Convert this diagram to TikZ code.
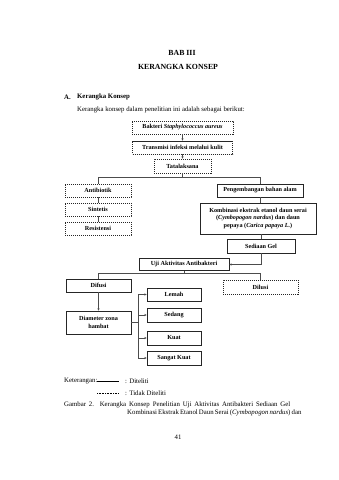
\documentclass[tikz,border=0pt]{standalone}
\usepackage{fontspec}
\setmainfont{Liberation Serif}
\usetikzlibrary{arrows.meta,calc}
\begin{document}
\begin{tikzpicture}[x=1pt,y=-1pt,
 box/.style={draw=black!85, line width=0.55pt, inner sep=0pt, align=center, font=\bfseries\fontsize{6.2}{7.6}\selectfont},
 solidbox/.style={box},
 dashbox/.style={box, dash pattern=on 1.2pt off 0.8pt},
 conn/.style={draw=black!70, line width=0.45pt},
 arr/.style={conn, -{Stealth[length=2.4pt,width=2.2pt]}},
 txt/.style={inner sep=0pt, font=\fontsize{6.8}{8}\selectfont},
 head/.style={inner sep=0pt, font=\bfseries\fontsize{7.8}{9}\selectfont}]
\useasboundingbox[fill=white] (0,0) rectangle (339,480);

\node[head] (t1) at (182,53) {BAB III};
\node[head] (t2) at (178,67) {KERANGKA KONSEP};
\node[txt, anchor=west, font=\bfseries\fontsize{6.8}{8}\selectfont] (sa) at (64,97) {A.};
\node[txt, anchor=west, font=\bfseries\fontsize{6.8}{8}\selectfont] (sb) at (77,97) {Kerangka Konsep};
\node[txt, anchor=west] (intro) at (77,110) {Kerangka konsep dalam penelitian ini adalah sebagai berikut:};

% top chain
\node[dashbox, minimum width=101, minimum height=13] (b1) at (182.5,127.5) {Bakteri \textit{Staphylococcus aureus}};
\node[dashbox, minimum width=100, minimum height=13] (b2) at (182.5,147.5) {Transmisi infeksi melalui kulit};
\node[dashbox, minimum width=57, minimum height=14] (b3) at (182.5,166) {Tatalaksana};
\draw[arr] (b1) -- (b2);
\draw[arr] (b2) -- (b3);
\coordinate (s1) at (182.5,177);
\draw[conn] (b3.south) -- (s1);

% left column
\node[dashbox, minimum width=66, minimum height=13] (anti) at (98,190.5) {Antibiotik};
\node[dashbox, minimum width=66, minimum height=13] (sint) at (98,209.5) {Sintetis};
\node[dashbox, minimum width=66, minimum height=13] (resi) at (98,228.5) {Resistensi};
\draw[conn] (anti.north) |- (s1);
\draw[conn] (anti) -- (sint);
\draw[conn] (sint) -- (resi);

% right column
\node[solidbox, minimum width=86, minimum height=13] (peng) at (260,190.5) {Pengembangan bahan alam};
\node[solidbox, minimum width=116, minimum height=31] (komb) at (258,218.5) {Kombinasi ekstrak etanol daun serai\\(\textit{Cymbopogon nardus}) dan daun\\pepaya (\textit{Carica papaya L.})};
\node[solidbox, minimum width=68, minimum height=14] (sedi) at (261,246) {Sediaan Gel};
\draw[conn] (peng.north) |- (s1);
\draw[conn] (peng.south) -- (peng.south |- komb.north);
\draw[conn] (sedi.north |- komb.south) -- (sedi.north);

% uji
\node[solidbox, minimum width=90, minimum height=12] (uji) at (184,264.5) {Uji Aktivitas Antibakteri};
\draw[arr] (sedi.south) |- (uji.east);
\coordinate (s2) at (184,273);
\draw[conn] (uji.south) -- (s2);

\node[solidbox, minimum width=65, minimum height=13] (difu) at (98.5,285.5) {Difusi};
\node[dashbox, minimum width=75, minimum height=14] (dilu) at (260.5,287) {Dilusi};
\draw[conn] (difu.north) |- (s2);
\draw[conn] (dilu.north) |- (s2);

\node[solidbox, minimum width=65, minimum height=23] (diam) at (98.5,322.5) {Diameter zona\\hambat};
\draw[arr] (difu) -- (diam);

\node[solidbox, minimum width=54, minimum height=13] (lemah) at (174,294.5) {Lemah};
\node[solidbox, minimum width=54, minimum height=14] (sedang) at (174,315) {Sedang};
\node[solidbox, minimum width=54, minimum height=14] (kuat) at (174,338) {Kuat};
\node[solidbox, minimum width=54, minimum height=14] (sangat) at (174,358) {Sangat Kuat};
\coordinate (br) at (138,322.5);
\draw[conn] (diam.east) -- (br);
\draw[conn] (br |- lemah) -- (br |- sangat);
\draw[arr] (br |- lemah) -- (lemah.west);
\draw[arr] (br |- sedang) -- (sedang.west);
\draw[arr] (br |- kuat) -- (kuat.west);
\draw[arr] (br |- sangat) -- (sangat.west);

% legend
\node[txt, anchor=west] (ket) at (64,381) {Keterangan:};
\coordinate (l1a) at (97,381.5);
\coordinate (l1b) at (119,381.5);
\draw[line width=0.5pt] (l1a) -- (l1b);
\node[txt, anchor=west] (d1) at (125,381) {: Diteliti};
\coordinate (l2a) at (97,393.5);
\coordinate (l2b) at (119,393.5);
\draw[line width=0.5pt, dash pattern=on 0.8pt off 0.8pt] (l2a) -- (l2b);
\node[txt, anchor=west] (d2) at (125,393) {: Tidak Diteliti};

% caption
\node[txt, anchor=west] (cap1) at (64,405) {\makebox[226pt][s]{Gambar 2. Kerangka Konsep Penelitian Uji Aktivitas Antibakteri Sediaan Gel}};
\node[txt, anchor=west] (cap2) at (127,412.5) {\makebox[163pt][s]{Kombinasi Ekstrak Etanol Daun Serai (\textit{Cymbopogon nardus}) dan}};

\node[txt] (pg) at (178,437) {41};
\end{tikzpicture}
\end{document}
